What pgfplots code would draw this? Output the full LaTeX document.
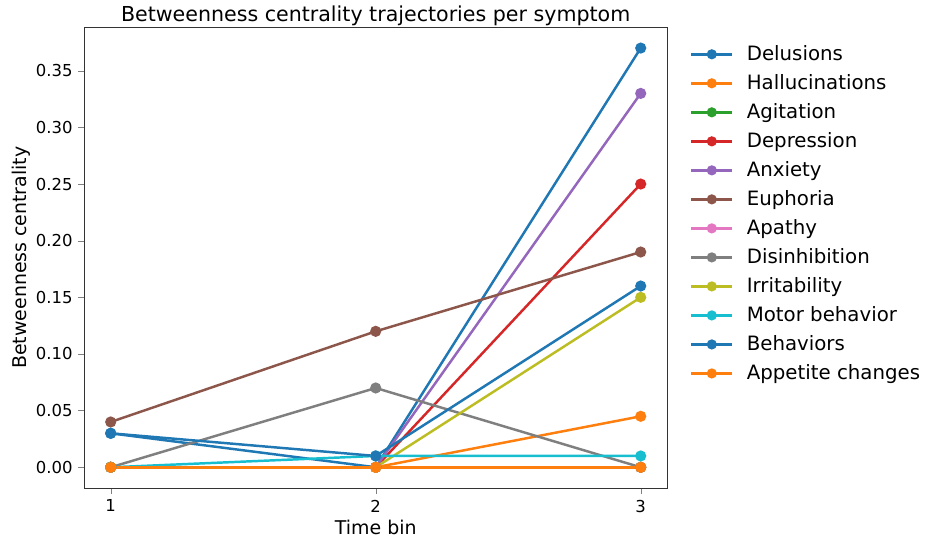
\documentclass[border=0pt]{standalone}
\usepackage{pgfplots}
\pgfplotsset{compat=1.18}
\usepackage{fontspec}
\setmainfont{DejaVu Sans}
\definecolor{c0}{HTML}{1F77B4}
\definecolor{c1}{HTML}{FF7F0E}
\definecolor{c2}{HTML}{2CA02C}
\definecolor{c3}{HTML}{D62728}
\definecolor{c4}{HTML}{9467BD}
\definecolor{c5}{HTML}{8C564B}
\definecolor{c6}{HTML}{E377C2}
\definecolor{c7}{HTML}{7F7F7F}
\definecolor{c8}{HTML}{BCBD22}
\definecolor{c9}{HTML}{17BECF}
\begin{document}
\begin{tikzpicture}
\begin{axis}[
  name=main,
  scale only axis,
  width=354pt, height=280pt,
  xmin=0.9, xmax=3.1, ymin=-0.0185, ymax=0.3885,
  xtick={1,2,3}, ytick={0,0.05,...,0.35},
  yticklabel style={/pgf/number format/fixed,/pgf/number format/fixed zerofill,/pgf/number format/precision=2},
  /pgf/number format/assume math mode=true,
  tick label style={font=\fontsize{10}{12}\selectfont},
  label style={font=\fontsize{11.5}{13}\selectfont},
  xlabel={Time bin}, ylabel={Betweenness centrality},
  xlabel style={yshift=2pt},
  ylabel style={yshift=-3.5pt},
  title={Betweenness centrality trajectories per symptom},
  title style={font=\fontsize{12.5}{14}\selectfont, yshift=-8.5pt},
  tick align=outside, tick pos=left,
  major tick length=3.5pt,
  axis line style={black!80},
  every axis plot/.append style={line width=1.5pt, mark=*, mark size=2.6pt},
  legend style={at={(1.0356,0.975)}, anchor=north west, draw=none, inner xsep=1pt, font=\fontsize{12}{14}\selectfont, row sep=3pt,
    /tikz/every odd column/.append style={column sep=6pt}},
  legend cell align=left,
  legend image code/.code={\draw[mark repeat=2,mark phase=2,mark size=2.3pt] plot coordinates {(0cm,0cm) (0.44cm,0cm) (0.88cm,0cm)};},
]
\addplot[c0, mark options={fill=c0}] coordinates {(1,0.03) (2,0.0) (3,0.37)};
\addlegendentry{Delusions}
\addplot[c1, mark options={fill=c1}] coordinates {(1,0.0) (2,0.0) (3,0.045)};
\addlegendentry{Hallucinations}
\addplot[c2, mark options={fill=c2}] coordinates {(1,0.0) (2,0.0) (3,0.0)};
\addlegendentry{Agitation}
\addplot[c3, mark options={fill=c3}] coordinates {(1,0.0) (2,0.0) (3,0.25)};
\addlegendentry{Depression}
\addplot[c4, mark options={fill=c4}] coordinates {(1,0.0) (2,0.0) (3,0.33)};
\addlegendentry{Anxiety}
\addplot[c5, mark options={fill=c5}] coordinates {(1,0.04) (2,0.12) (3,0.19)};
\addlegendentry{Euphoria}
\addplot[c6, mark options={fill=c6}] coordinates {(1,0.0) (2,0.0) (3,0.0)};
\addlegendentry{Apathy}
\addplot[c7, mark options={fill=c7}] coordinates {(1,0.0) (2,0.07) (3,0.0)};
\addlegendentry{Disinhibition}
\addplot[c8, mark options={fill=c8}] coordinates {(1,0.0) (2,0.0) (3,0.15)};
\addlegendentry{Irritability}
\addplot[c9, mark options={fill=c9}] coordinates {(1,0.0) (2,0.01) (3,0.01)};
\addlegendentry{Motor behavior}
\addplot[c0, mark options={fill=c0}] coordinates {(1,0.03) (2,0.01) (3,0.16)};
\addlegendentry{Behaviors}
\addplot[c1, mark options={fill=c1}] coordinates {(1,0.0) (2,0.0) (3,0.0)};
\addlegendentry{Appetite changes}
\end{axis}
\path (current bounding box.west) ++(-4pt,0) coordinate (padL);
\path[use as bounding box] (current bounding box.south east) rectangle (padL |- current bounding box.north);
\end{tikzpicture}
\end{document}
